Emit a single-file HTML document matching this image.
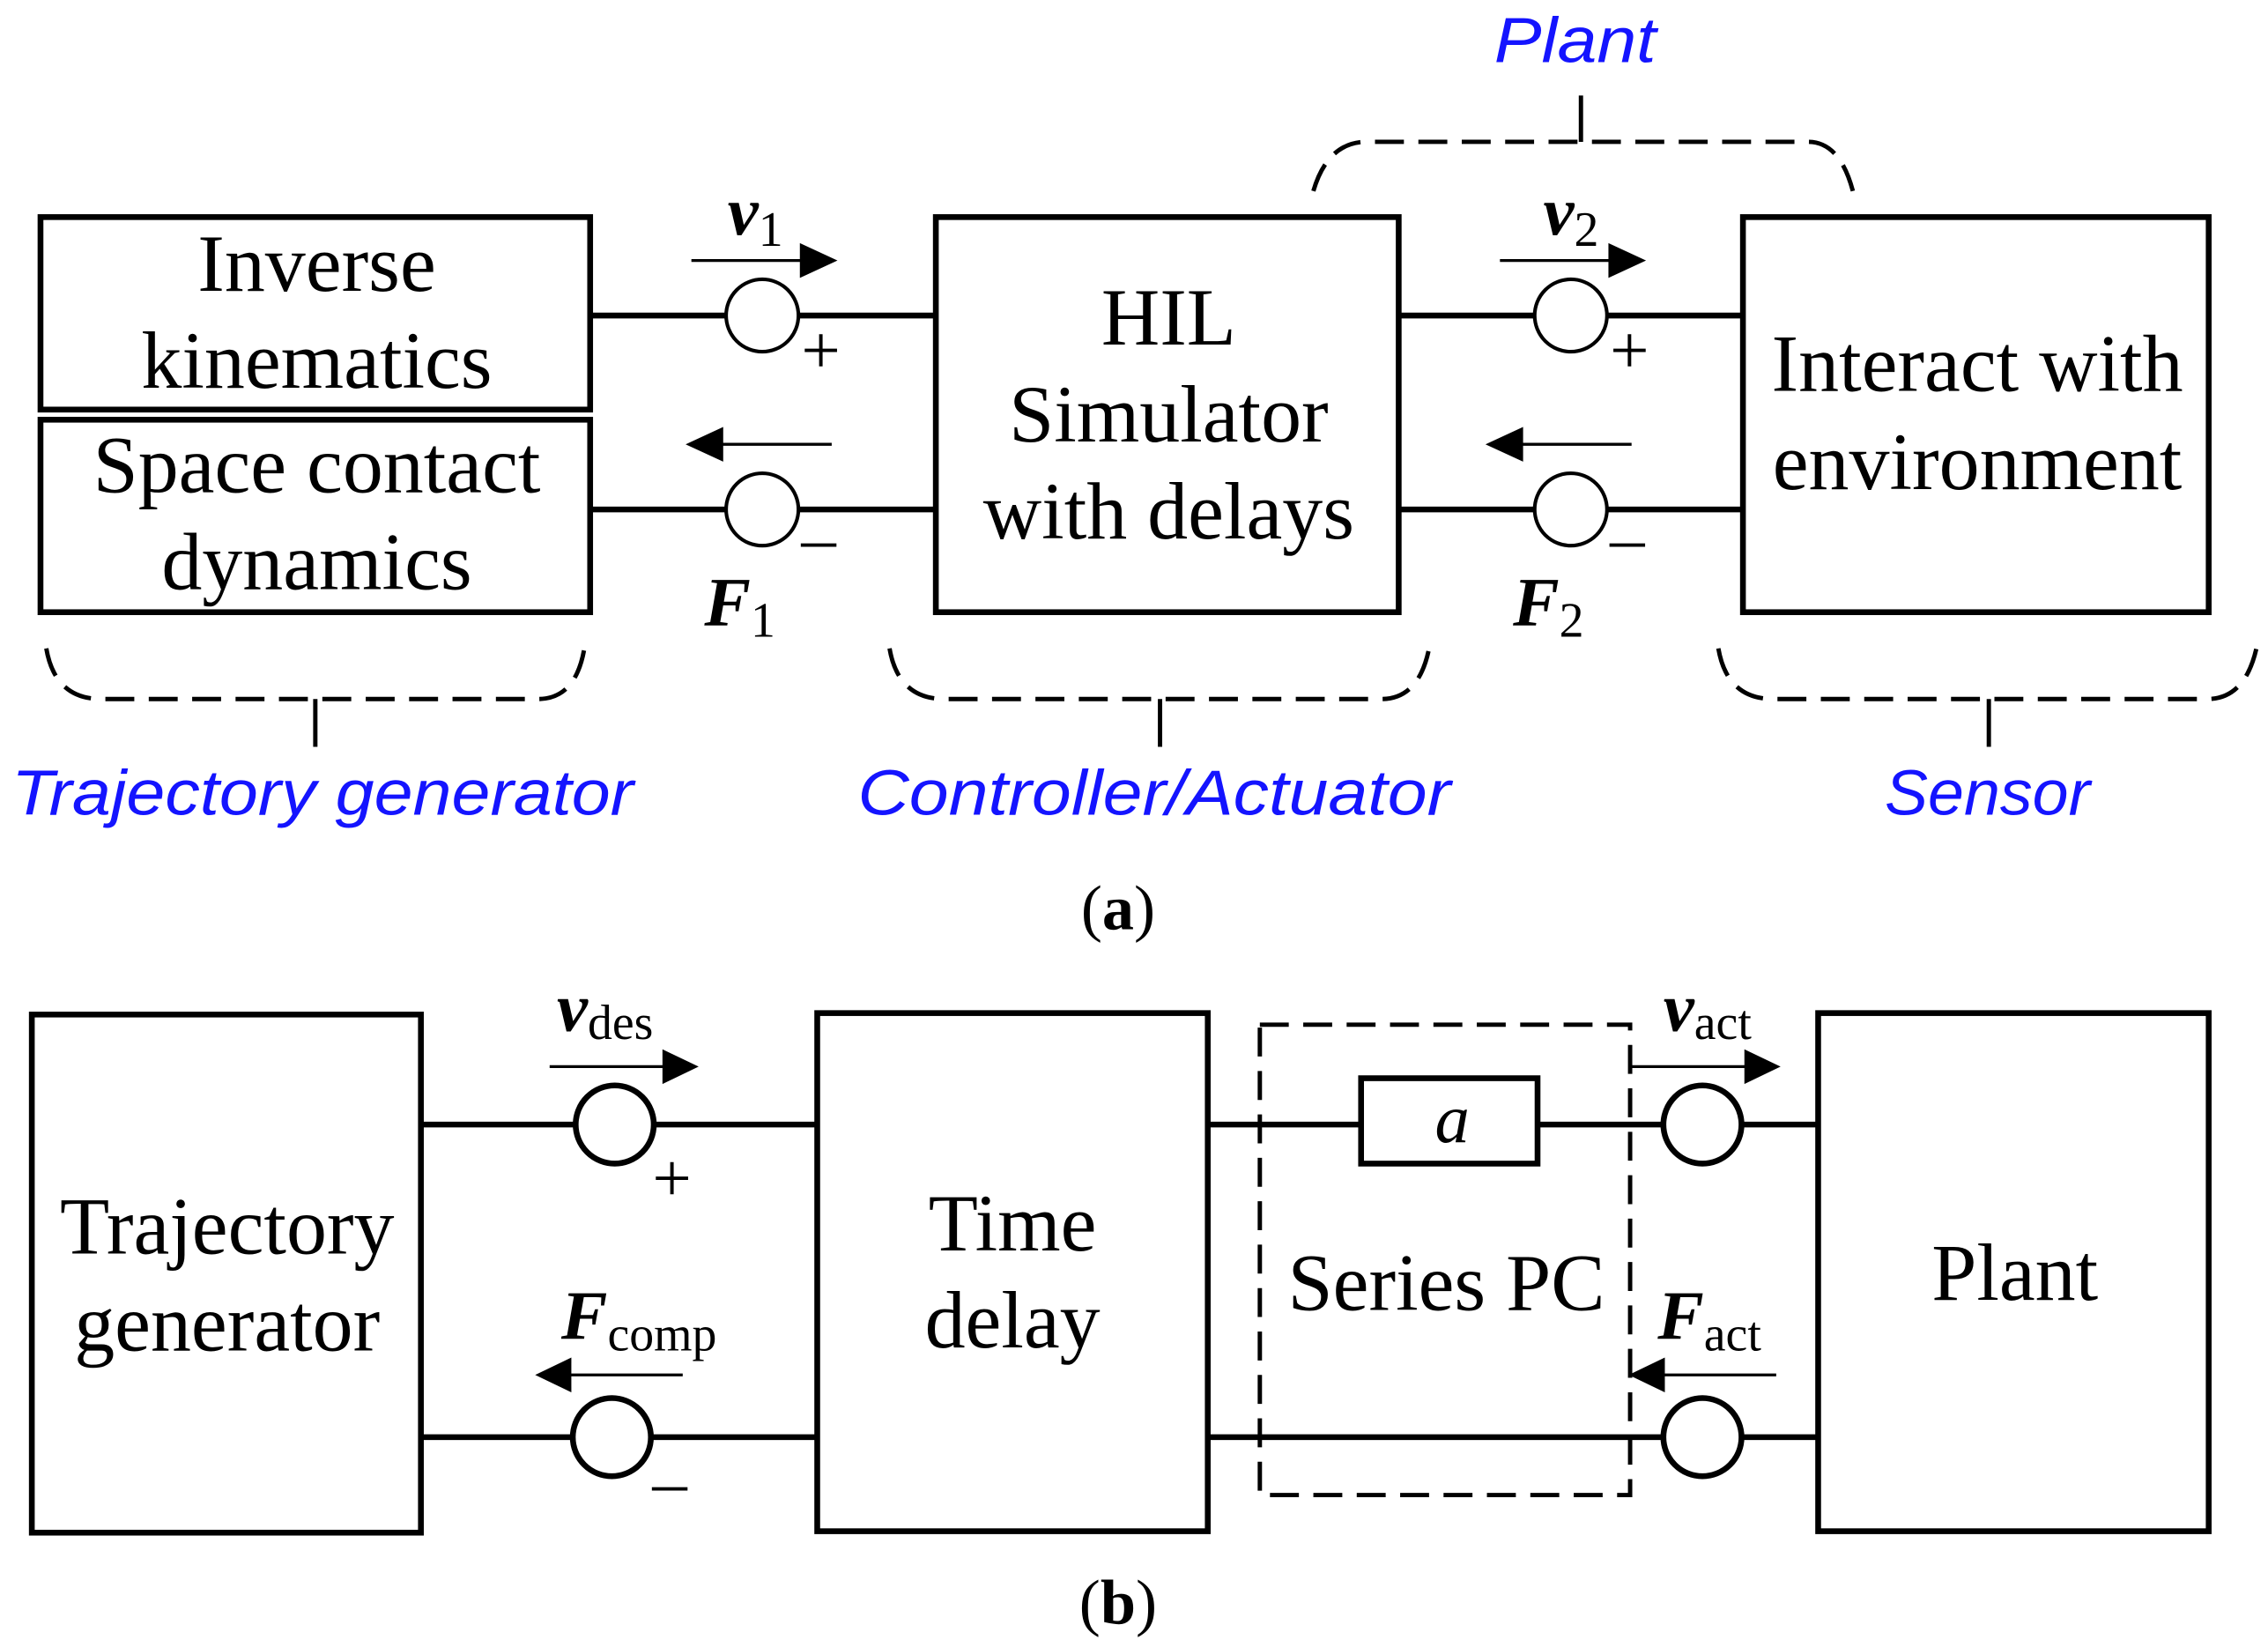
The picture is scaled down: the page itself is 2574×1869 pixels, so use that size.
<!DOCTYPE html>
<html><head><meta charset="utf-8"><style>html,body{margin:0;padding:0;background:#fff}svg{display:block}</style></head>
<body>
<svg width="2574" height="1869" viewBox="0 0 1568 1138" preserveAspectRatio="none" xmlns="http://www.w3.org/2000/svg" font-family="Liberation Serif, serif">
<g stroke="#000" stroke-width="4" fill="none">
<rect x="28" y="150" width="380" height="133"/>
<rect x="28" y="290" width="380" height="133"/>
<rect x="647" y="150" width="320" height="273"/>
<rect x="1205" y="150" width="322" height="273"/>
<path d="M408 218H502M552 218H647M408 352H502M552 352H647"/>
<path d="M967 218H1061M1111 218H1205M967 352H1061M1111 352H1205"/>
<circle cx="527" cy="218" r="25" stroke-width="2.5"/>
<circle cx="527" cy="352" r="25" stroke-width="2.5"/>
<circle cx="1086" cy="218" r="25" stroke-width="2.5"/>
<circle cx="1086" cy="352" r="25" stroke-width="2.5"/>
<rect x="22" y="701" width="269" height="358"/>
<rect x="565" y="700" width="270" height="358"/>
<rect x="1257" y="700" width="270" height="358"/>
<rect x="941" y="745" width="122" height="59"/>
<path d="M291 777H398M452 777H565M291 993H396M450 993H565"/>
<path d="M835 777H941M1063 777H1150M1204 777H1257M835 993H1150M1204 993H1257"/>
<circle cx="425" cy="777" r="27"/>
<circle cx="423" cy="993" r="27"/>
<circle cx="1177" cy="777" r="27"/>
<circle cx="1177" cy="993" r="27"/>
</g>
<g stroke="#000" stroke-width="2" fill="#000">
<line x1="478" y1="180" x2="555" y2="180"/><path d="M553 168L579 180L553 192z" stroke="none"/>
<line x1="575" y1="307" x2="497" y2="307"/><path d="M500 295L474 307L500 319z" stroke="none"/>
<line x1="1037" y1="180" x2="1115" y2="180"/><path d="M1112 168L1138 180L1112 192z" stroke="none"/>
<line x1="1128" y1="307" x2="1050" y2="307"/><path d="M1053 295L1027 307L1053 319z" stroke="none"/>
<line x1="380" y1="737" x2="460" y2="737"/><path d="M458 725L483 737L458 749z" stroke="none"/>
<line x1="472" y1="950" x2="393" y2="950"/><path d="M395 938L370 950L395 962z" stroke="none"/>
<line x1="1128" y1="737" x2="1208" y2="737"/><path d="M1206 725L1231 737L1206 749z" stroke="none"/>
<line x1="1228" y1="950" x2="1149" y2="950"/><path d="M1151 938L1126 950L1151 962z" stroke="none"/>
</g>
<g stroke="#000" stroke-width="3" fill="none" stroke-dasharray="20,10">
<path d="M32 448Q38 483 70 483H372Q398 483 404 448"/>
<path d="M615 448Q621 483 653 483H955Q981 483 988 448"/>
<path d="M1188 448Q1194 483 1226 483H1526Q1552 483 1560 448"/>
<path d="M908 132Q918 98 945 98H1250Q1272 98 1281 132"/>
<rect x="871" y="708" width="256" height="325"/>
</g>
<g stroke="#000" stroke-width="3">
<path d="M218 483V516M802 483V516M1375 483V516M1093 98V66"/>
</g>
<g font-size="56" text-anchor="middle" fill="#000">
<text x="219" y="201">Inverse</text>
<text x="219" y="268">kinematics</text>
<text x="219" y="340">Space contact</text>
<text x="219" y="407">dynamics</text>
<text x="808" y="238">HIL</text>
<text x="808" y="305">Simulator</text>
<text x="808" y="372">with delays</text>
<text x="1367" y="270">Interact with</text>
<text x="1367" y="338">environment</text>
<text x="773" y="642" font-size="44">(<tspan font-weight="bold">a</tspan>)</text>
<text x="773" y="1122" font-size="44">(<tspan font-weight="bold">b</tspan>)</text>
<text x="157" y="866">Trajectory</text>
<text x="157" y="933">generator</text>
<text x="700" y="864">Time</text>
<text x="700" y="931">delay</text>
<text x="1000" y="905">Series PC</text>
<text x="1393" y="898">Plant</text>
<text x="1004" y="789" font-style="italic" font-size="48">a</text>
</g>
<g font-size="48" fill="#000">
<text x="554" y="258" font-size="48">+</text>
<text x="554" y="388" font-size="48">–</text>
<text x="1113" y="258" font-size="48">+</text>
<text x="1113" y="388" font-size="48">–</text>
<text x="451" y="830" font-size="48">+</text>
<text x="451" y="1040" font-size="48">–</text>
<text x="503" y="162" font-weight="bold" font-style="italic">v<tspan font-weight="normal" font-style="normal" font-size="34" dy="8">1</tspan></text>
<text x="1067" y="162" font-weight="bold" font-style="italic">v<tspan font-weight="normal" font-style="normal" font-size="34" dy="8">2</tspan></text>
<text x="487" y="432" font-weight="bold" font-style="italic">F<tspan font-weight="normal" font-style="normal" font-size="34" dy="8">1</tspan></text>
<text x="1046" y="432" font-weight="bold" font-style="italic">F<tspan font-weight="normal" font-style="normal" font-size="34" dy="8">2</tspan></text>
<text x="385" y="712" font-weight="bold" font-style="italic">v<tspan font-weight="normal" font-style="normal" font-size="34" dy="6">des</tspan></text>
<text x="1150" y="712" font-weight="bold" font-style="italic">v<tspan font-weight="normal" font-style="normal" font-size="34" dy="6">act</tspan></text>
<text x="388" y="925" font-weight="bold" font-style="italic">F<tspan font-weight="normal" font-style="normal" font-size="34" dy="8">comp</tspan></text>
<text x="1146" y="925" font-weight="bold" font-style="italic">F<tspan font-weight="normal" font-style="normal" font-size="34" dy="8">act</tspan></text>
</g>
<g font-family="Liberation Sans, sans-serif" font-style="italic" font-size="44" fill="#1414ff">
<text x="8" y="563" textLength="430" lengthAdjust="spacingAndGlyphs">Trajectory generator</text>
<text x="593" y="563" textLength="410" lengthAdjust="spacingAndGlyphs">Controller/Actuator</text>
<text x="1303" y="563" textLength="142" lengthAdjust="spacingAndGlyphs">Sensor</text>
<text x="1033" y="43" textLength="112" lengthAdjust="spacingAndGlyphs">Plant</text>
</g>
</svg>
</body></html>
